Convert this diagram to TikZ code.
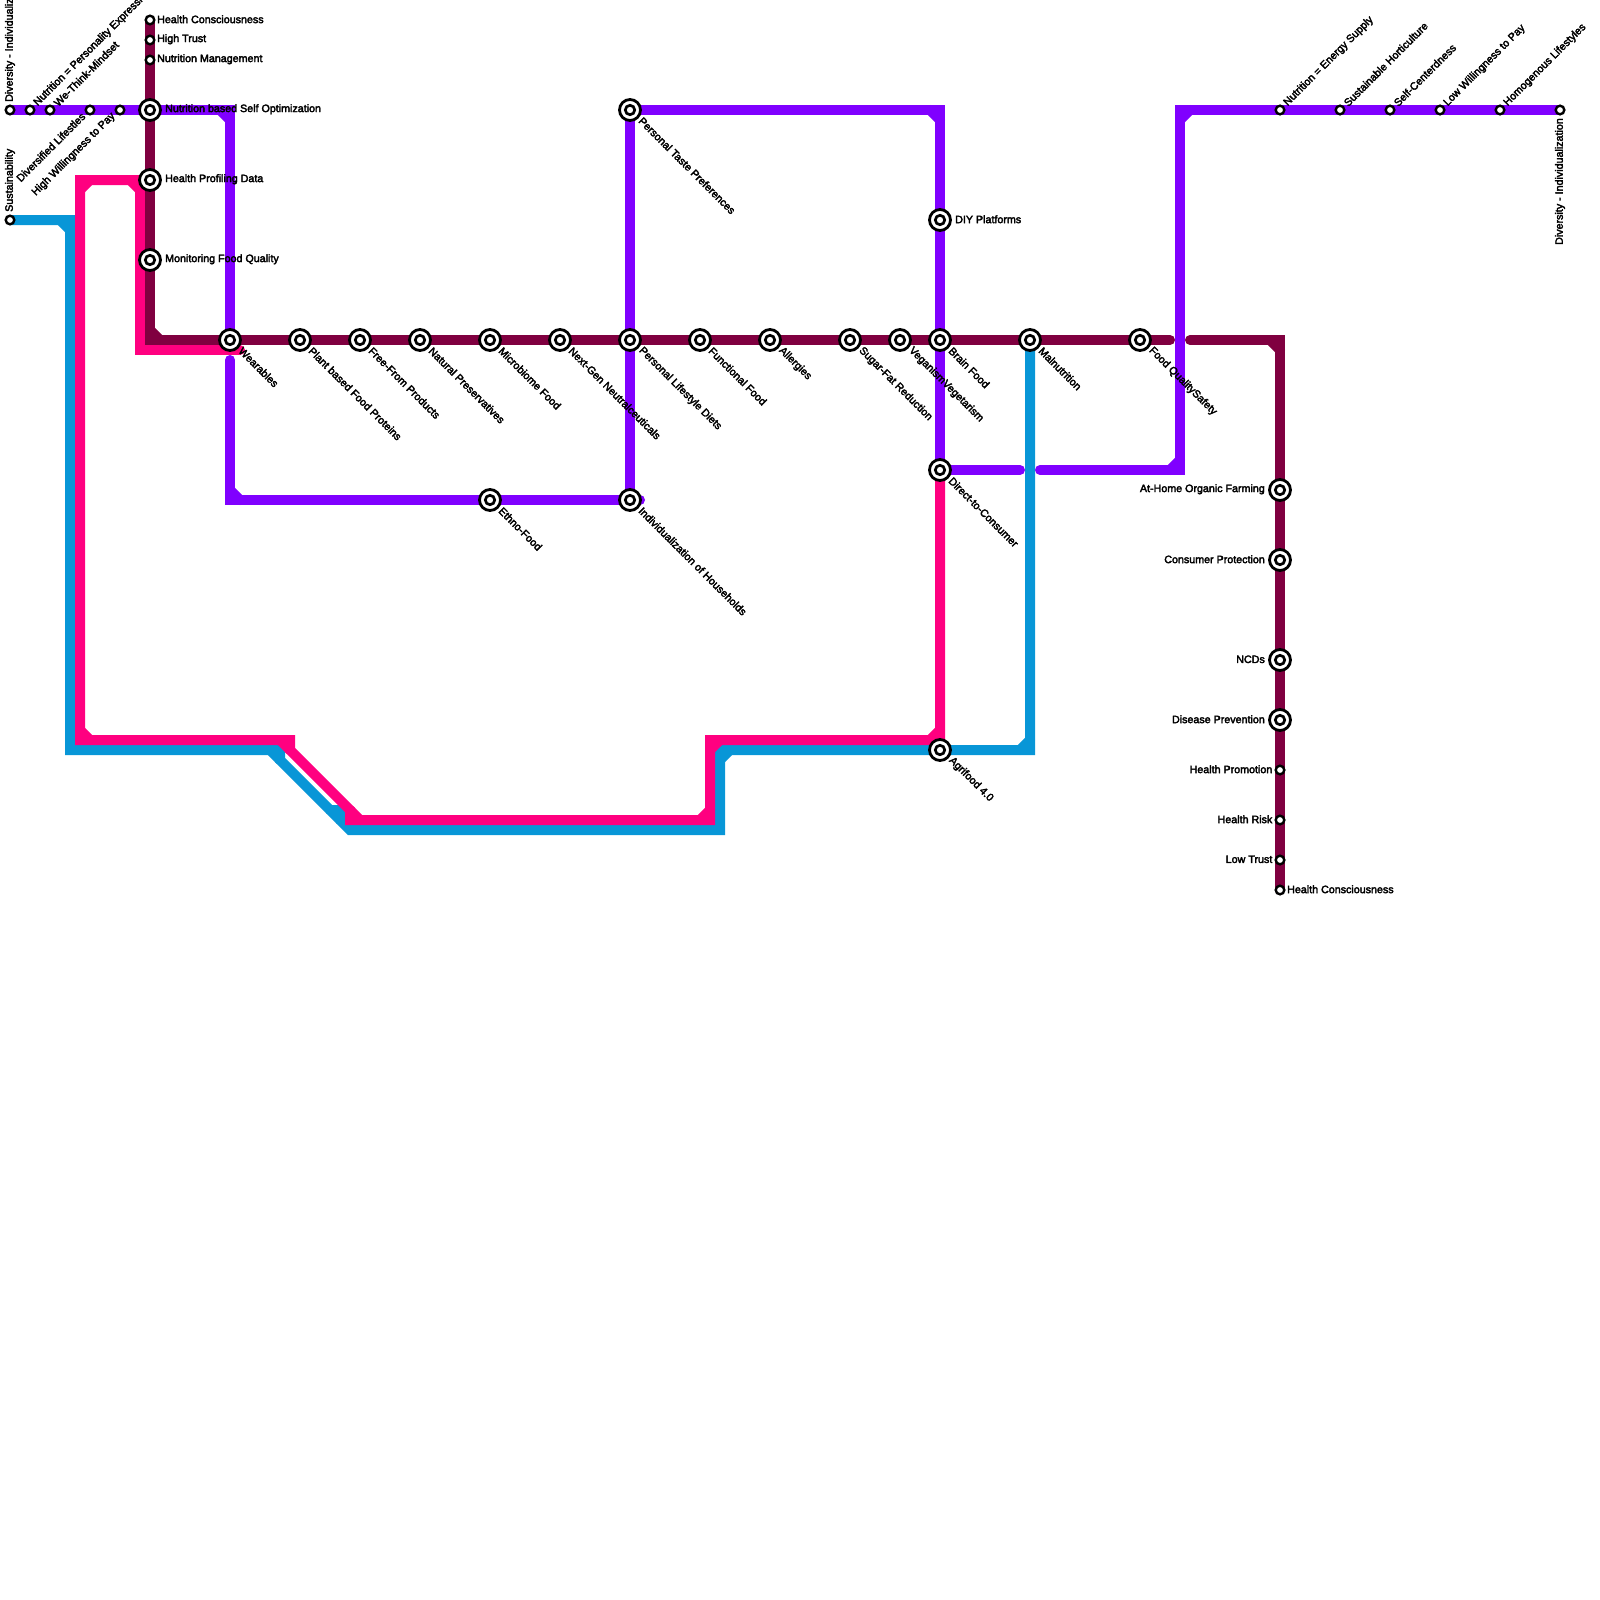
\documentclass[tikz,border=0pt]{standalone}
\usepackage{fontspec}
\setmainfont{Liberation Sans}[FakeBold=3]
\usetikzlibrary{backgrounds}
\definecolor{linepurple}{HTML}{8000FF}
\definecolor{linepink}{HTML}{FF0080}
\definecolor{linemaroon}{HTML}{800040}
\definecolor{lineblue}{HTML}{0896D7}
\tikzset{
  metro/.style={line width=10pt,line cap=round,line join=miter,draw=#1},
  bigstop/.style={circle,draw=black,fill=white,line width=2.8pt,minimum size=21pt,inner sep=0pt,outer sep=0pt,
    path picture={\draw[black,line width=2.7pt] (path picture bounding box.center) circle (4.7pt);}},
  smallstop/.style={circle,draw=black,fill=white,line width=2.4pt,minimum size=8.6pt,inner sep=0pt,outer sep=0pt},
  tag/.style={inner sep=0pt,font=\fontsize{10.7}{12}\selectfont},
  tagse/.style={tag,rotate=-45,anchor=west},
  tagne/.style={tag,rotate=45,anchor=west},
  tagsw/.style={tag,rotate=45,anchor=east},
  tagright/.style={tag,anchor=west},
  tagleft/.style={tag,anchor=east},
  tagup/.style={tag,rotate=90,anchor=west},
  tagdown/.style={tag,rotate=90,anchor=east},
}
\newcommand{\cutcorner}[4]{\draw[metro=#1] ([xshift=#3]#2) -- ([yshift=#4]#2);}
\begin{document}
\begin{tikzpicture}[x=1pt,y=-1pt]
  \useasboundingbox (0,0) rectangle (1600,1600);

  % stops along the long horizontal
  \foreach \id/\x/\txt in {wearables/230/Wearables,plantprotein/300/Plant based Food Proteins,
    freefrom/360/Free-From Products,preservatives/420/Natural Preservatives,microbiome/490/Microbiome Food,
    neutra/560/Next-Gen Neutralceuticals,lifestylediets/630/Personal Lifestyle Diets,functional/700/Functional Food,
    allergies/770/Allergies,sugarfat/850/Sugar-Fat Reduction,vegan/900/VeganismVegetarism,brainfood/940/Brain Food,
    malnutrition/1030/Malnutrition,foodsafety/1140/Food QualitySafety}{
    \node[bigstop] (\id) at (\x,340) {};
    \node[tagse] (\id-tag) at ([xshift=10.5pt,yshift=-9pt]\id.center) {\txt};
  }
  % other big stops with slanted labels
  \foreach \id/\x/\y/\txt in {tastepref/630/110/Personal Taste Preferences,ethno/490/500/Ethno-Food,
    households/630/500/Individualization of Households,directcons/940/470/Direct-to-Consumer,agrifood/940/750/Agrifood 4.0}{
    \node[bigstop] (\id) at (\x,\y) {};
    \node[tagse] (\id-tag) at ([xshift=10.5pt,yshift=-9pt]\id.center) {\txt};
  }
  % big stops, flat labels
  \foreach \id/\x/\y/\txt in {selfopt/150/110/Nutrition based Self Optimization,profiling/150/180/Health Profiling Data,
    monitoring/150/260/Monitoring Food Quality,diy/940/220/DIY Platforms}{
    \node[bigstop] (\id) at (\x,\y) {};
    \node[tagright] (\id-tag) at ([xshift=15pt,yshift=0.7pt]\id.center) {\txt};
  }
  \foreach \id/\y/\txt in {organic/490/At-Home Organic Farming,protection/560/Consumer Protection,
    ncds/660/NCDs,prevention/720/Disease Prevention}{
    \node[bigstop] (\id) at (1280,\y) {};
    \node[tagleft] (\id-tag) at ([xshift=-15pt,yshift=0.7pt]\id.center) {\txt};
  }
  % small stops
  \foreach \id/\y/\txt in {consciousa/20/Health Consciousness,trust/40/High Trust,management/60/Nutrition Management}{
    \node[smallstop] (\id) at (150,\y) {};
    \node[tagright] (\id-tag) at ([xshift=7pt,yshift=0.7pt]\id.center) {\txt};
  }
  \foreach \id/\y/\txt in {promotion/770/Health Promotion,risk/820/Health Risk,lowtrust/860/Low Trust}{
    \node[smallstop] (\id) at (1280,\y) {};
    \node[tagleft] (\id-tag) at ([xshift=-7.5pt,yshift=0.7pt]\id.center) {\txt};
  }
  \node[smallstop] (consciousb) at (1280,890) {};
  \node[tagright] (consciousb-tag) at ([xshift=7pt,yshift=0.7pt]consciousb.center) {Health Consciousness};
  \foreach \id/\x/\txt in {persexpr/30/Nutrition = Personality Expression,wethink/50/We-Think-Mindset,
    energy/1280/Nutrition = Energy Supply,horticulture/1340/Sustainable Horticulture,
    selfcentred/1390/Self-Centerdness,lowpay/1440/Low Willingness to Pay,homogenous/1500/Homogenous Lifestyles}{
    \node[smallstop] (\id) at (\x,110) {};
    \node[tagne] (\id-tag) at ([xshift=5.5pt,yshift=5.5pt]\id.center) {\txt};
  }
  \foreach \id/\x/\txt in {diversified/90/Diversified Lifestles,highpay/120/High Willingness to Pay}{
    \node[smallstop] (\id) at (\x,110) {};
    \node[tagsw] (\id-tag) at ([xshift=-6.5pt,yshift=-4.5pt]\id.center) {\txt};
  }
  \node[smallstop] (diversa) at (10,110) {};
  \node[tagup] (diversa-tag) at ([yshift=8pt]diversa.center) {Diversity - Individualization};
  \node[smallstop] (sustain) at (10,220) {};
  \node[tagup] (sustain-tag) at ([yshift=8pt]sustain.center) {Sustainability};
  \node[smallstop] (diversb) at (1560,110) {};
  \node[tagdown] (diversb-tag) at ([yshift=-8pt]diversb.center) {Diversity - Individualization};

  % bends
  \coordinate (bluea) at (70,220);
  \coordinate (blueb) at (70,750);
  \coordinate (bluec) at (280,750);
  \coordinate (blued) at (280,760);
  \coordinate (bluee) at (350,830);
  \coordinate (bluef) at (720,830);
  \coordinate (blueg) at (720,750);
  \coordinate (blueh) at (1030,750);
  \coordinate (bluei) at (330,810);
  \coordinate (bluej) at (340,810);
  \coordinate (bluek) at (340,820);
  \coordinate (pinka) at (80,180);
  \coordinate (pinkb) at (80,740);
  \coordinate (pinkc) at (290,740);
  \coordinate (pinkd) at (290,750);
  \coordinate (pinke) at (350,810);
  \coordinate (pinkf) at (350,820);
  \coordinate (pinkg) at (710,820);
  \coordinate (pinkh) at (710,740);
  \coordinate (pinki) at (940,740);
  \coordinate (pinkj) at (140,180);
  \coordinate (pinkk) at (140,350);
  \coordinate (pinkl) at (240,350);
  \coordinate (maroona) at (150,340);
  \coordinate (maroonb) at (1170,340);
  \coordinate (maroonc) at (1190,340);
  \coordinate (maroond) at (1280,340);
  \coordinate (purplea) at (230,110);
  \coordinate (purpleb) at (230,360);
  \coordinate (purplec) at (230,500);
  \coordinate (purpled) at (640,500);
  \coordinate (purplee) at (940,110);
  \coordinate (purplef) at (1020,470);
  \coordinate (purpleg) at (1040,470);
  \coordinate (purpleh) at (1180,470);
  \coordinate (purplei) at (1180,110);

  \begin{pgfonlayer}{background}
    \draw[metro=lineblue] (sustain.center) -- (bluea) -- (blueb) -- (bluec) -- (blued) -- (bluee) -- (bluef) -- (blueg) -- (blueh) -- (malnutrition.center);
    \draw[metro=lineblue] (bluei) -- (bluej) -- (bluek);
    \cutcorner{lineblue}{bluea}{-10pt}{-10pt}
    \cutcorner{lineblue}{bluec}{-10pt}{-10pt}
    \cutcorner{lineblue}{blueg}{10pt}{-10pt}
    \cutcorner{lineblue}{blueh}{-10pt}{10pt}

    \draw[metro=linepink] (profiling.center) -- (pinka) -- (pinkb) -- (pinkc) -- (pinkd) -- (pinke) -- (pinkf) -- (pinkg) -- (pinkh) -- (pinki) -- (directcons.center);
    \draw[metro=linepink] (profiling.center) -- (pinkj) -- (pinkk) -- (pinkl);
    \cutcorner{linepink}{pinka}{10pt}{-10pt}
    \cutcorner{linepink}{pinkb}{10pt}{10pt}
    \cutcorner{linepink}{pinkc}{-10pt}{-10pt}
    \cutcorner{linepink}{pinkf}{10pt}{10pt}
    \cutcorner{linepink}{pinkg}{-10pt}{10pt}
    \cutcorner{linepink}{pinkh}{10pt}{-10pt}
    \cutcorner{linepink}{pinki}{-10pt}{10pt}
    \cutcorner{linepink}{pinkj}{-10pt}{-10pt}

    \draw[metro=linemaroon] (consciousa.center) -- (maroona) -- (maroonb);
    \draw[metro=linemaroon] (maroonc) -- (maroond) -- (consciousb.center);
    \cutcorner{linemaroon}{maroona}{10pt}{10pt}
    \cutcorner{linemaroon}{maroond}{-10pt}{-10pt}

    \draw[metro=linepurple] (diversa.center) -- (purplea) -- (wearables.center);
    \draw[metro=linepurple] (purpleb) -- (purplec) -- (purpled);
    \draw[metro=linepurple] (households.center) -- (tastepref.center) -- (purplee) -- (directcons.center) -- (purplef);
    \draw[metro=linepurple] (purpleg) -- (purpleh) -- (purplei) -- (diversb.center);
    \cutcorner{linepurple}{purplea}{-10pt}{-10pt}
    \cutcorner{linepurple}{purplec}{10pt}{10pt}
    \cutcorner{linepurple}{purplee}{-10pt}{-10pt}
    \cutcorner{linepurple}{purpleh}{-10pt}{10pt}
    \cutcorner{linepurple}{purplei}{10pt}{-10pt}
  \end{pgfonlayer}
\end{tikzpicture}
\end{document}
